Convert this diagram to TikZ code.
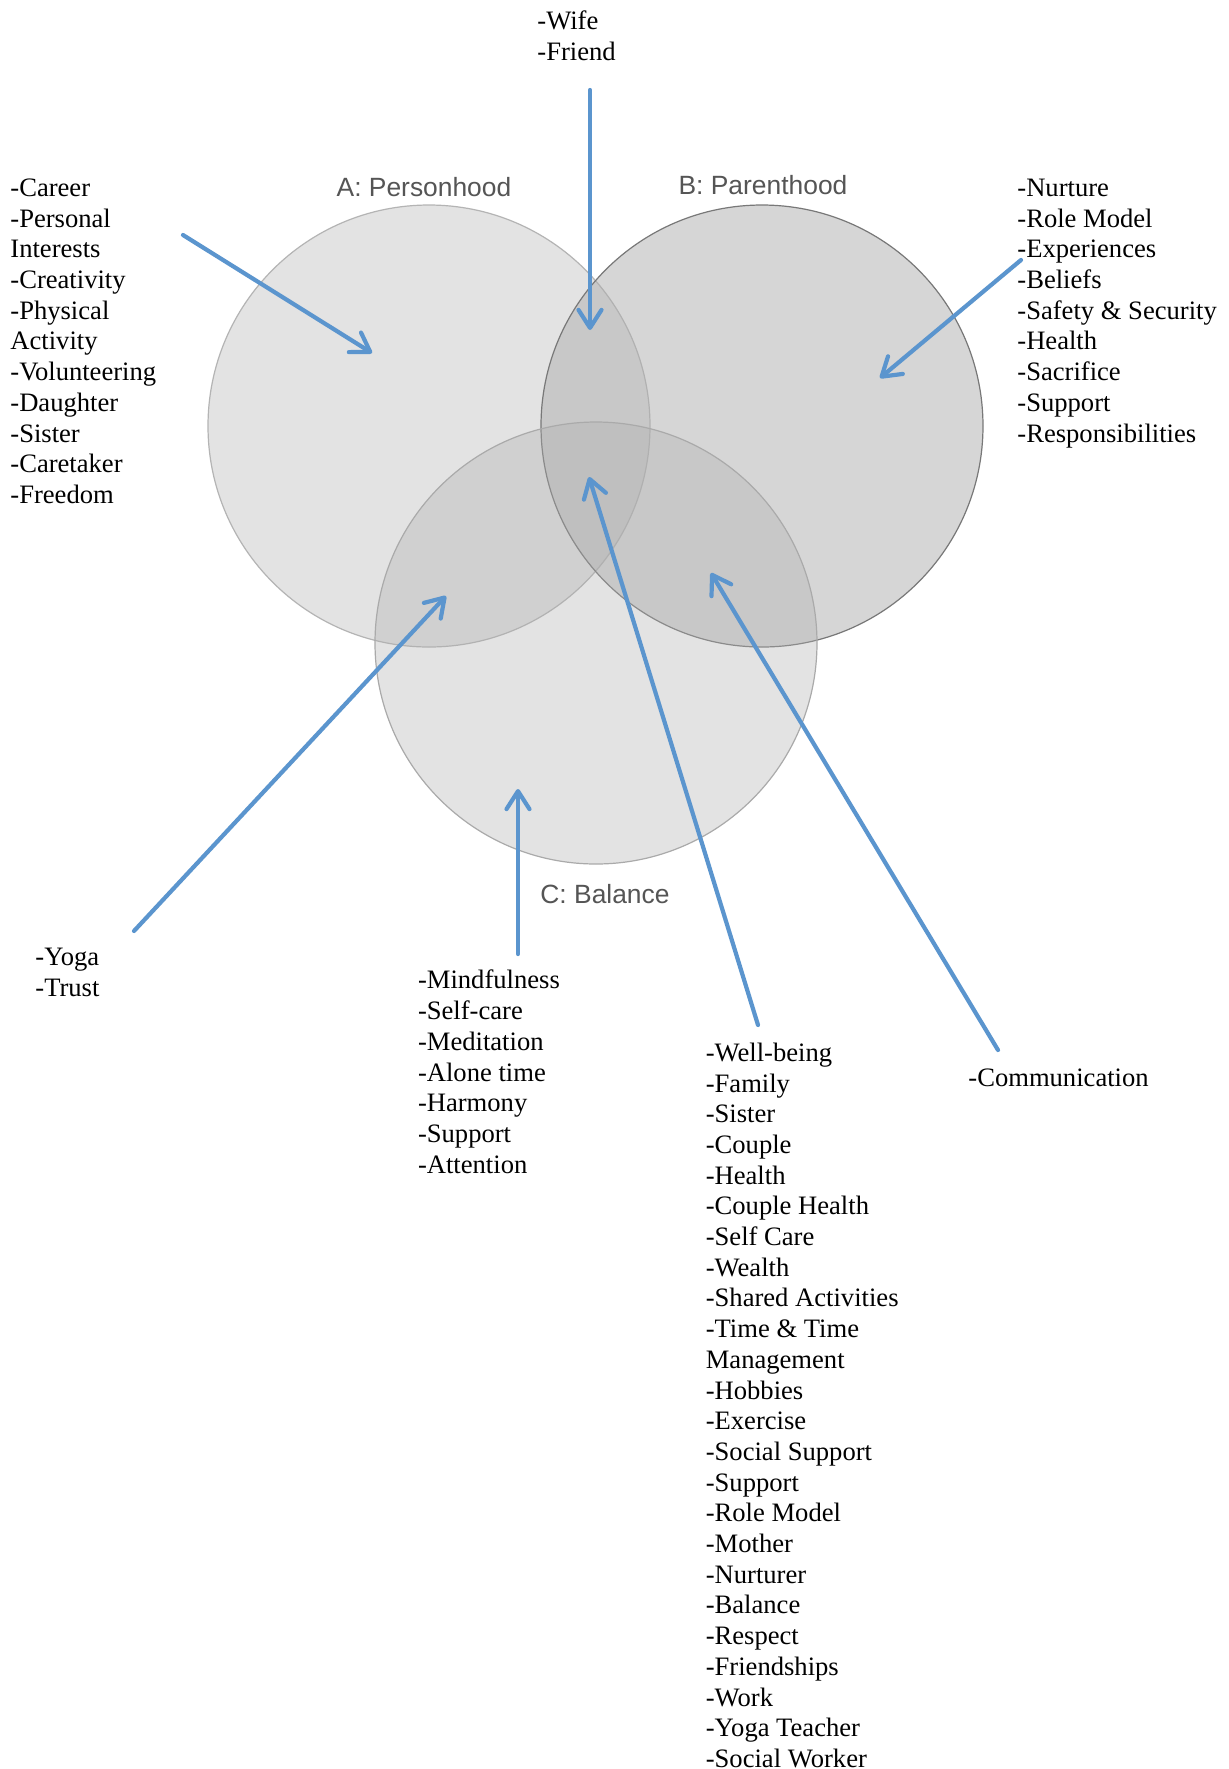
\documentclass[tikz,border=0pt]{standalone}
\usepackage{fontspec}
\setmainfont{Liberation Serif}
\newfontfamily\labelfont{Liberation Sans}
\usetikzlibrary{arrows.meta}
\definecolor{arrowblue}{RGB}{91,149,206}
\definecolor{labelgray}{RGB}{85,85,85}
\definecolor{vennfill}{RGB}{175,175,175}
\definecolor{borderA}{RGB}{180,180,180}
\definecolor{borderB}{RGB}{120,120,120}
\definecolor{borderC}{RGB}{170,170,170}
\tikzset{
  listtext/.style={anchor=north west, inner sep=0pt, align=left,
    font=\fontsize{13.3pt}{15.35pt}\selectfont},
  setlabel/.style={inner sep=0pt, text=labelgray,
    font=\labelfont\fontsize{13.2pt}{15pt}\selectfont},
  pointer/.style={draw=arrowblue, line width=2.1pt, line cap=round,
    -{Straight Barb[length=9pt,width=11.5pt,round]}},
  circA/.style={draw=borderA, line width=0.6pt, fill=vennfill, fill opacity=0.35},
  circB/.style={draw=borderB, line width=0.6pt, fill=vennfill, fill opacity=0.51},
  circC/.style={draw=borderC, line width=0.6pt, fill=vennfill, fill opacity=0.35},
}
\begin{document}
\begin{tikzpicture}[x=0.5pt,y=-0.5pt]
\useasboundingbox (0,0) rectangle (1229,1769);
\fill[white] (0,0) rectangle (1229,1769);

% circles
\path[circA] (429,426) circle[radius=221];
\path[circB] (762,426) circle[radius=221];
\path[circC] (596,643) circle[radius=221];

% set labels
\node[setlabel] (labA) at (424,187) {A: Personhood};
\node[setlabel] (labB) at (763,185) {B: Parenthood};
\node[setlabel] (labC) at (605,894) {C: Balance};

% text lists
\node[listtext] (tleft) at (10,174.5) {\strut-Career\\-Personal\\Interests\\-Creativity\\-Physical\\Activity\\-Volunteering\\-Daughter\\-Sister\\-Caretaker\\-Freedom};
\node[listtext] (ttop) at (537,7.8) {\strut-Wife\\-Friend};
\node[listtext] (tright) at (1017,174.5) {\strut-Nurture\\-Role Model\\-Experiences\\-Beliefs\\-Safety \& Security\\-Health\\-Sacrifice\\-Support\\-Responsibilities};
\node[listtext] (tyoga) at (35,943.5) {\strut-Yoga\\-Trust};
\node[listtext] (tmind) at (417.6,967) {\strut-Mindfulness\\-Self-care\\-Meditation\\-Alone time\\-Harmony\\-Support\\-Attention};
\node[listtext] (twell) at (705.4,1039.4) {\strut-Well-being\\-Family\\-Sister\\-Couple\\-Health\\-Couple Health\\-Self Care\\-Wealth\\-Shared Activities\\-Time \& Time\\Management\\-Hobbies\\-Exercise\\-Social Support\\-Support\\-Role Model\\-Mother\\-Nurturer\\-Balance\\-Respect\\-Friendships\\-Work\\-Yoga Teacher\\-Social Worker};
\node[listtext] (tcomm) at (968,1064.2) {\strut-Communication};

% arrow endpoints
\coordinate (s1) at (183,235);   \coordinate (e1) at (372,353);
\coordinate (s2) at (590,90);    \coordinate (e2) at (590,330);
\coordinate (s3) at (1021,260);  \coordinate (e3) at (880,378);
\coordinate (s4) at (134,931);   \coordinate (e4) at (446,596);
\coordinate (s5) at (518,954);   \coordinate (e5) at (518,789);
\coordinate (s6) at (758,1025);  \coordinate (e6) at (589,477);
\coordinate (s7) at (998,1050);  \coordinate (e7) at (711,573);

\draw[pointer] (s1) -- (e1);
\draw[pointer] (s2) -- (e2);
\draw[pointer] (s3) -- (e3);
\draw[pointer] (s4) -- (e4);
\draw[pointer] (s5) -- (e5);
\draw[pointer] (s6) -- (e6);
\draw[pointer] (s7) -- (e7);
\end{tikzpicture}
\end{document}
